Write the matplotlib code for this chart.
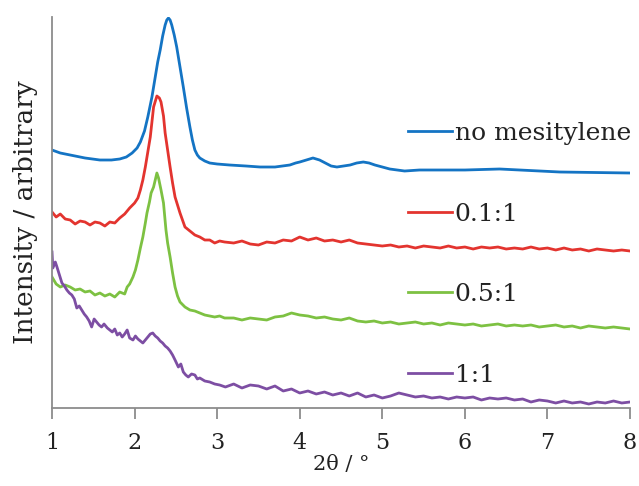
import matplotlib.pyplot as plt

plt.rcParams["font.family"] = ["DejaVu Serif"]

# no mesitylene (smooth)
x_blue = [1.00, 1.10, 1.22, 1.40, 1.58, 1.72, 1.82, 1.90, 1.97, 2.03, 2.07, 2.12, 2.16, 2.21,
          2.25, 2.28, 2.31, 2.34, 2.37, 2.39, 2.41, 2.43, 2.45, 2.48, 2.51, 2.55, 2.59, 2.63,
          2.67, 2.70, 2.73, 2.76, 2.79, 2.85, 2.91, 3.00, 3.15, 3.35, 3.52, 3.70, 3.88, 3.95,
          4.00, 4.08, 4.16, 4.24, 4.31, 4.38, 4.45, 4.53, 4.61, 4.69, 4.77, 4.84, 4.91, 5.00,
          5.09, 5.18, 5.27, 5.45, 6.00, 6.42, 7.15, 8.00]
y_blue = [258, 255, 253, 250, 248, 248, 249, 251, 255, 260, 266, 277, 291, 311,
          331, 346, 358, 372, 383, 388, 390, 388, 383, 373, 361, 341, 321, 300,
          281, 268, 258, 253, 250, 247, 245, 244, 243, 242, 241, 241, 243, 245,
          246, 248, 250, 248, 245, 242, 241, 242, 243, 245, 246, 245, 243, 241,
          239, 238, 237, 238, 238, 239, 236, 235]

# 0.1:1
x_red = [1.00, 1.05, 1.10, 1.16, 1.22, 1.28, 1.34, 1.40, 1.46, 1.52, 1.58, 1.64, 1.70, 1.76,
         1.82, 1.88, 1.94, 2.00, 2.04, 2.07, 2.10, 2.13, 2.16, 2.19, 2.23, 2.27, 2.30, 2.32,
         2.35, 2.37, 2.40, 2.43, 2.46, 2.49, 2.52, 2.55, 2.58, 2.61, 2.67, 2.73, 2.79, 2.85,
         2.91, 2.97, 3.03, 3.09,
         3.2, 3.3, 3.4, 3.5, 3.6, 3.7, 3.8, 3.9, 4.0, 4.1, 4.2, 4.3, 4.4, 4.5, 4.6, 4.7, 4.8,
         4.9, 5.0, 5.1, 5.2, 5.3, 5.4, 5.5, 5.6, 5.7, 5.8, 5.9, 6.0, 6.1, 6.2, 6.3, 6.4, 6.5,
         6.6, 6.7, 6.8, 6.9, 7.0, 7.1, 7.2, 7.3, 7.4, 7.5, 7.6, 7.7, 7.8, 7.9, 8.0]
y_red = [196, 191, 194, 189, 188, 184, 187, 186, 183, 186, 185, 182, 186, 185,
         190, 194, 200, 205, 210, 218, 228, 241, 256, 271, 301, 312, 310, 306,
         292, 275, 258, 241, 225, 211, 203, 195, 188, 181, 177, 173, 171, 168,
         168, 165, 167, 166,
         165, 167, 164, 163, 166, 165, 168, 167, 171, 168, 170, 167, 168, 166, 168, 165, 164,
         163, 162, 163, 161, 162, 160, 162, 161, 160, 162, 160, 161, 159, 161, 160, 161, 159,
         160, 159, 161, 159, 160, 158, 160, 158, 159, 157, 159, 158, 157, 158, 157]

# 0.5:1
x_green = [1.00, 1.05, 1.10, 1.16, 1.22, 1.28, 1.34, 1.40, 1.46, 1.52, 1.58, 1.64, 1.70, 1.76,
           1.82, 1.88, 1.91, 1.94, 1.98, 2.01, 2.04, 2.07, 2.10, 2.13, 2.15, 2.18, 2.20, 2.23,
           2.25, 2.27, 2.29, 2.32, 2.35, 2.38, 2.40, 2.43, 2.46, 2.49, 2.52, 2.55, 2.61, 2.67,
           2.73, 2.79, 2.85, 2.91, 2.97, 3.03, 3.09,
           3.2, 3.3, 3.4, 3.5, 3.6, 3.7, 3.8, 3.9, 4.0, 4.1, 4.2, 4.3, 4.4, 4.5, 4.6, 4.7, 4.8,
           4.9, 5.0, 5.1, 5.2, 5.3, 5.4, 5.5, 5.6, 5.7, 5.8, 5.9, 6.0, 6.1, 6.2, 6.3, 6.4, 6.5,
           6.6, 6.7, 6.8, 6.9, 7.0, 7.1, 7.2, 7.3, 7.4, 7.5, 7.6, 7.7, 7.8, 7.9, 8.0]
y_green = [131, 124, 121, 123, 121, 118, 119, 116, 117, 113, 115, 112, 114, 111,
           116, 114, 121, 124, 131, 138, 148, 160, 171, 185, 195, 206, 215, 221,
           228, 235, 230, 218, 205, 178, 165, 151, 135, 121, 112, 106, 101, 98,
           97, 95, 93, 92, 91, 92, 90,
           90, 88, 90, 89, 88, 91, 92, 95, 93, 92, 90, 91, 89, 88, 90, 87, 86,
           87, 85, 86, 84, 85, 86, 84, 85, 83, 85, 84, 83, 84, 82, 83, 84, 82,
           83, 82, 83, 81, 82, 83, 81, 82, 80, 82, 81, 80, 81, 80, 79]

# 1:1
x_purple = [1.00, 1.01, 1.04, 1.06, 1.09, 1.12, 1.15, 1.18, 1.21, 1.24, 1.27, 1.30, 1.33, 1.36,
            1.39, 1.42, 1.45, 1.48, 1.51, 1.54, 1.57, 1.60, 1.63, 1.67, 1.70, 1.73, 1.76, 1.79,
            1.82, 1.85, 1.88, 1.91, 1.94, 1.98, 2.01, 2.04, 2.07, 2.10, 2.13, 2.16, 2.19, 2.22,
            2.25, 2.28, 2.31, 2.34, 2.37, 2.40, 2.43, 2.46, 2.49, 2.53, 2.56, 2.59, 2.62, 2.65,
            2.69, 2.73, 2.76, 2.79, 2.85, 2.91, 2.97, 3.03,
            3.1, 3.2, 3.3, 3.4, 3.5, 3.6, 3.7, 3.8, 3.9, 4.0, 4.1, 4.2, 4.3, 4.4, 4.5, 4.6, 4.7,
            4.8, 4.9, 5.0, 5.1, 5.2, 5.3, 5.4, 5.5, 5.6, 5.7, 5.8, 5.9, 6.0, 6.1, 6.2, 6.3, 6.4,
            6.5, 6.6, 6.7, 6.8, 6.9, 7.0, 7.1, 7.2, 7.3, 7.4, 7.5, 7.6, 7.7, 7.8, 7.9, 8.0]
y_purple = [156, 140, 146, 141, 133, 125, 122, 118, 115, 113, 109, 100, 102, 98,
            94, 91, 87, 81, 89, 86, 83, 81, 84, 80, 78, 76, 79, 73,
            75, 71, 74, 78, 70, 68, 72, 69, 67, 65, 68, 71, 74, 75,
            72, 70, 67, 65, 62, 60, 57, 53, 48, 41, 44, 36, 33, 31,
            34, 33, 29, 30, 27, 26, 24, 23,
            21, 24, 20, 23, 22, 19, 22, 17, 19, 15, 17, 14, 16, 13, 15, 12, 15,
            11, 13, 10, 12, 15, 13, 11, 12, 10, 11, 9, 11, 10, 11, 8, 10, 9,
            10, 8, 9, 6, 8, 7, 5, 7, 5, 6, 4, 6, 5, 7, 5, 6]

labels = ["no mesitylene", "0.1:1", "0.5:1", "1:1"]
colors = ["#1474C4", "#E3342F", "#7DC142", "#7D4EA3"]

fig = plt.figure(figsize=(6.39, 4.86), dpi=100)
ax = fig.add_axes([0.0814, 0.1605, 0.9046, 0.8045])

series = [(x_blue, y_blue), (x_red, y_red), (x_green, y_green), (x_purple, y_purple)]
for (xs, ys), lab, col in zip(series, labels, colors):
    ax.plot(xs, ys, color=col, linewidth=2, label=lab)

ax.set_xlim(1, 8)
ax.set_ylim(0, 391)
ax.set_xticks(range(1, 9))
ax.set_yticks([])
for side in ["top", "right"]:
    ax.spines[side].set_visible(False)
for side in ["left", "bottom"]:
    ax.spines[side].set_color("#8c8c8c")
    ax.spines[side].set_linewidth(1.3)
ax.tick_params(axis="x", direction="out", length=8, width=1.3, color="#8c8c8c",
               labelsize=16, labelcolor="#222222", pad=9)
ax.set_xlabel("2θ / °", fontsize=15, color="#222222", labelpad=1)
ax.set_ylabel("Intensity / arbitrary", fontsize=19, color="#222222", labelpad=10)

ax.legend(loc="upper left", bbox_to_anchor=(408 / 639, 1 - 122 / 486),
          bbox_transform=fig.transFigure, frameon=False, fontsize=18,
          handlelength=1.75, handletextpad=0.12, labelspacing=2.3,
          borderpad=0, borderaxespad=0, labelcolor="#222222")

fig.savefig("out.png", dpi=100)
